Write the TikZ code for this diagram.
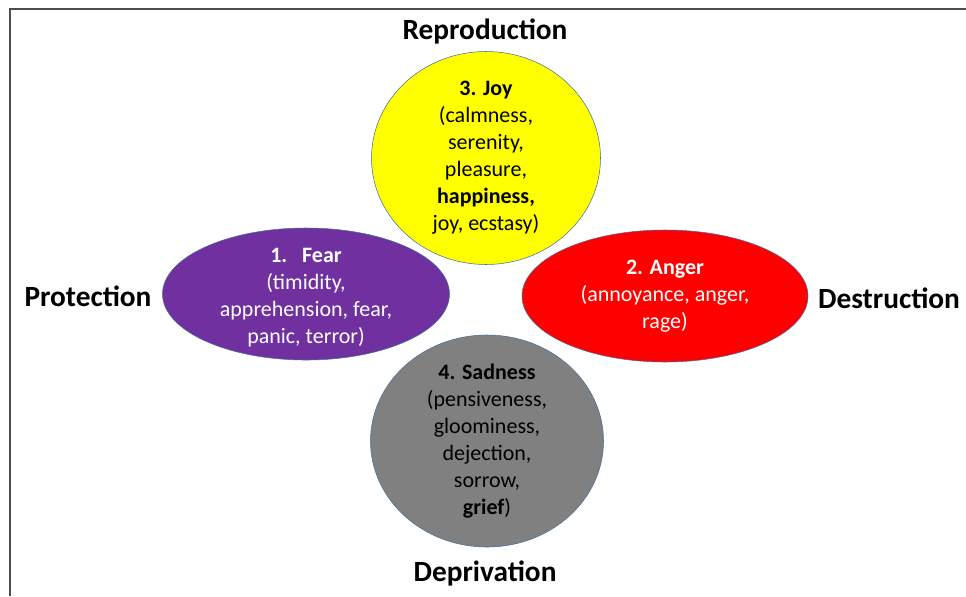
\documentclass[tikz,border=0pt]{standalone}
\usepackage{fontspec}
\setmainfont{Carlito}
\usetikzlibrary{shapes.geometric, positioning, calc}

\definecolor{joyyellow}{HTML}{FFFF00}
\definecolor{fearpurple}{HTML}{7030A0}
\definecolor{angerred}{HTML}{FF0000}
\definecolor{sadgray}{HTML}{808080}
\definecolor{rimblue}{HTML}{41719C}
\definecolor{framegray}{HTML}{4D4D4D}

\begin{document}
\begin{tikzpicture}[
      x=0.75pt, y=-0.75pt,
      emotion/.style={ellipse, draw=rimblue, line width=0.4pt, inner sep=0pt},
      emotext/.style={align=center, font=\fontsize{16.5}{20.2}\selectfont},
      purpose/.style={font=\fontsize{22}{26}\selectfont\bfseries, text=black}
    ]
    \useasboundingbox (0,0) rectangle (966,596);
    \draw[framegray, line width=1.5pt] (10,596) -- (10,8.5) -- (966,8.5);

    % circles first, ellipses on top (sizes in px, 1px = 0.75pt)
    \node[emotion, fill=joyyellow, minimum width=171.75pt, minimum height=159.75pt] (joy) at (486,158) {};
    \node[emotion, fill=sadgray, minimum width=174.75pt, minimum height=159pt] (sadness) at (487,441) {};
    \node[emotion, fill=fearpurple, minimum width=215.25pt, minimum height=99pt] (fear) at (306,294) {};
    \node[emotion, fill=angerred, minimum width=214.5pt, minimum height=99pt] (anger) at (665,296) {};

    \node[emotext] (joytext) at (joy.center) {\textbf{3. Joy}\\(calmness,\\serenity,\\pleasure,\\\textbf{happiness,}\\joy, ecstasy)};
    \node[emotext, text=white] (feartext) at ($(fear.center)+(0,4)$) {\textbf{1.\ \ \ Fear}\\(timidity,\\apprehension, fear,\\panic, terror)};
    \node[emotext, text=white] (angertext) at (anger.center) {\textbf{2. Anger}\\(annoyance, anger,\\rage)};
    \node[emotext] (sadtext) at (sadness.center) {\textbf{4. Sadness}\\(pensiveness,\\gloominess,\\dejection,\\sorrow,\\\textbf{grief})};

    \node[purpose] (reproduction) at (485,31) {Reproduction};
    \node[purpose] (protection) at (88,296) {Protection};
    \node[purpose] (destruction) at (889,298) {Destruction};
    \node[purpose] (deprivation) at (485,573) {Deprivation};
  \end{tikzpicture}
\end{document}
